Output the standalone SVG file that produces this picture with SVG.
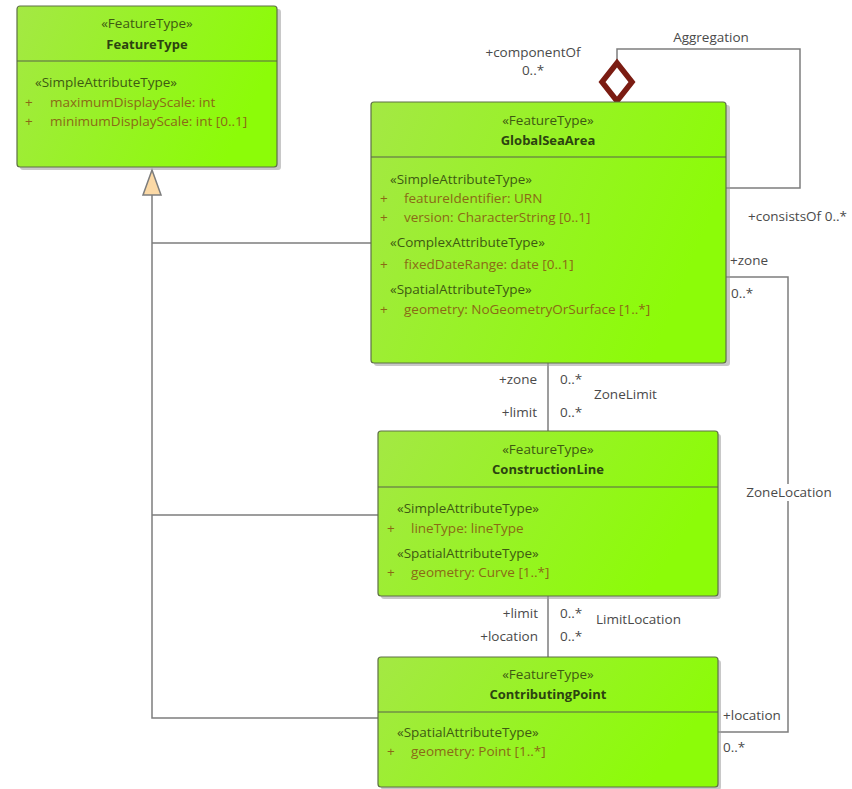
<svg xmlns="http://www.w3.org/2000/svg" width="852" height="789" viewBox="0 0 852 789">
  <style>
    .box { fill: url(#boxFill); stroke: #5e7046; stroke-width: 1.2; }
    .shadow { fill: #9a9a9a; opacity: 0.55; }
    .div { stroke: #58634a; stroke-width: 1.2; }
    .st { font-family: "Open Sans", "Noto Sans", sans-serif; font-size: 13.5px; fill: #3e5a12; }
    .nm { font-family: "Open Sans", "Noto Sans", sans-serif; font-size: 13px; font-weight: bold; fill: #2c4310; }
    .at { font-family: "Open Sans", "Noto Sans", sans-serif; font-size: 13.5px; fill: #8a6a16; }
    .lb { font-family: "Open Sans", "Noto Sans", sans-serif; font-size: 13.5px; fill: #4a4a4a; }
    .ln { fill: none; stroke: #7d7d7d; stroke-width: 1.5; }
  </style>
  <defs>
    <linearGradient id="boxFill" x1="0" y1="0" x2="1" y2="0.3">
      <stop offset="0" stop-color="#a4e844"/>
      <stop offset="1" stop-color="#8cfc08"/>
    </linearGradient>
  </defs>
  <rect width="852" height="789" fill="#ffffff"/>

  <!-- connectors -->
  <g id="connectors">
    <!-- generalisation tree -->
    <polyline class="ln" points="152,195 152,718 379,718"/>
    <line class="ln" x1="152" y1="243" x2="372" y2="243"/>
    <line class="ln" x1="152" y1="515" x2="379" y2="515"/>
    <polygon points="152,170 143,195 161,195" fill="#fbd9a6" stroke="#7d7d7d" stroke-width="1.5"/>

    <!-- Aggregation (self) -->
    <polyline class="ln" points="617,62 617,49 800,49 800,188 726,188"/>
    <polygon points="617,63 632,82 617,101 602,82" fill="#ffffff" stroke="#7b1c12" stroke-width="5.5" stroke-linejoin="miter"/>
    <text class="lb" x="711" y="42" text-anchor="middle">Aggregation</text>
    <text class="lb" x="533" y="57" text-anchor="middle">+componentOf</text>
    <text class="lb" x="533" y="75" text-anchor="middle">0..*</text>
    <text class="lb" x="748" y="221">+consistsOf 0..*</text>

    <!-- ZoneLimit -->
    <line class="ln" x1="548" y1="363" x2="548" y2="431"/>
    <text class="lb" x="537" y="384" text-anchor="end">+zone</text>
    <text class="lb" x="537" y="417" text-anchor="end">+limit</text>
    <text class="lb" x="560" y="384">0..*</text>
    <text class="lb" x="560" y="417">0..*</text>
    <text class="lb" x="594" y="399">ZoneLimit</text>

    <!-- LimitLocation -->
    <line class="ln" x1="548" y1="596" x2="548" y2="657"/>
    <text class="lb" x="538" y="618" text-anchor="end">+limit</text>
    <text class="lb" x="538" y="641" text-anchor="end">+location</text>
    <text class="lb" x="560" y="618">0..*</text>
    <text class="lb" x="560" y="641">0..*</text>
    <text class="lb" x="596" y="624">LimitLocation</text>

    <!-- ZoneLocation -->
    <polyline class="ln" points="726,277 788,277 788,732 718,732"/>
    <rect x="744" y="484" width="90" height="17" fill="#ffffff"/>
    <text class="lb" x="789" y="497" text-anchor="middle">ZoneLocation</text>
    <text class="lb" x="730" y="265">+zone</text>
    <text class="lb" x="731" y="298">0..*</text>
    <text class="lb" x="723" y="720">+location</text>
    <text class="lb" x="723" y="752">0..*</text>
  </g>

  <!-- FeatureType -->
  <g id="FeatureType">
    <rect class="shadow" x="20" y="9" width="261" height="161" rx="3"/>
    <rect class="box" x="17" y="6" width="260" height="161" rx="3"/>
    <line class="div" x1="17" y1="61" x2="277" y2="61"/>
    <text class="st" x="147" y="28" text-anchor="middle">«FeatureType»</text>
    <text class="nm" x="147" y="49" text-anchor="middle">FeatureType</text>
    <text class="st" x="35" y="87">«SimpleAttributeType»</text>
    <text class="at" x="25" y="107">+</text>
    <text class="at" x="50" y="107">maximumDisplayScale: int</text>
    <text class="at" x="25" y="126">+</text>
    <text class="at" x="50" y="126">minimumDisplayScale: int [0..1]</text>
  </g>

  <!-- GlobalSeaArea -->
  <g id="GlobalSeaArea">
    <rect class="shadow" x="374" y="105" width="356" height="261" rx="3"/>
    <rect class="box" x="371" y="102" width="355" height="261" rx="3"/>
    <line class="div" x1="371" y1="157" x2="726" y2="157"/>
    <text class="st" x="548" y="125" text-anchor="middle">«FeatureType»</text>
    <text class="nm" x="548" y="145" text-anchor="middle">GlobalSeaArea</text>
    <text class="st" x="390" y="184">«SimpleAttributeType»</text>
    <text class="at" x="380" y="203">+</text>
    <text class="at" x="404" y="203">featureIdentifier: URN</text>
    <text class="at" x="380" y="222">+</text>
    <text class="at" x="404" y="222">version: CharacterString [0..1]</text>
    <text class="st" x="390" y="247">«ComplexAttributeType»</text>
    <text class="at" x="380" y="269">+</text>
    <text class="at" x="404" y="269">fixedDateRange: date [0..1]</text>
    <text class="st" x="390" y="294">«SpatialAttributeType»</text>
    <text class="at" x="380" y="314">+</text>
    <text class="at" x="404" y="314">geometry: NoGeometryOrSurface [1..*]</text>
  </g>

  <!-- ConstructionLine -->
  <g id="ConstructionLine">
    <rect class="shadow" x="381" y="434" width="340" height="165" rx="3"/>
    <rect class="box" x="378" y="431" width="340" height="165" rx="3"/>
    <line class="div" x1="378" y1="487" x2="718" y2="487"/>
    <text class="st" x="548" y="454" text-anchor="middle">«FeatureType»</text>
    <text class="nm" x="548" y="474" text-anchor="middle">ConstructionLine</text>
    <text class="st" x="397" y="513">«SimpleAttributeType»</text>
    <text class="at" x="387" y="533">+</text>
    <text class="at" x="411" y="533">lineType: lineType</text>
    <text class="st" x="397" y="558">«SpatialAttributeType»</text>
    <text class="at" x="387" y="577">+</text>
    <text class="at" x="411" y="577">geometry: Curve [1..*]</text>
  </g>

  <!-- ContributingPoint -->
  <g id="ContributingPoint">
    <rect class="shadow" x="381" y="660" width="340" height="130" rx="3"/>
    <rect class="box" x="378" y="657" width="340" height="130" rx="3"/>
    <line class="div" x1="378" y1="712" x2="718" y2="712"/>
    <text class="st" x="548" y="679" text-anchor="middle">«FeatureType»</text>
    <text class="nm" x="548" y="699" text-anchor="middle">ContributingPoint</text>
    <text class="st" x="397" y="737">«SpatialAttributeType»</text>
    <text class="at" x="387" y="756">+</text>
    <text class="at" x="411" y="756">geometry: Point [1..*]</text>
  </g>
</svg>
